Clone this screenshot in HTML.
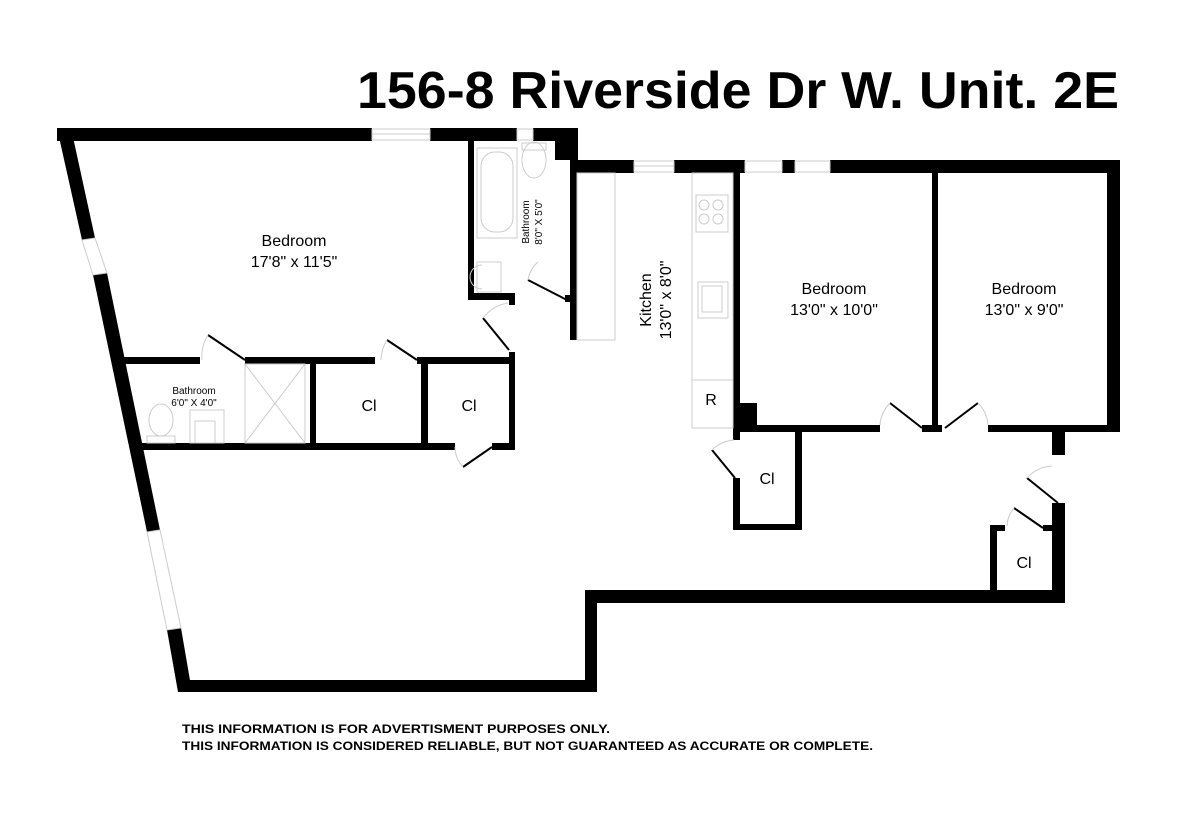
<!DOCTYPE html>
<html><head><style>
body{margin:0;background:#fff;}
svg{display:block;font-family:"Liberation Sans",Arial,sans-serif;}
</style></head><body>
<svg width="1200" height="828" viewBox="0 0 1200 828" xmlns="http://www.w3.org/2000/svg">
<text x="357" y="108" font-size="52" font-weight="bold" fill="#000" textLength="762" lengthAdjust="spacingAndGlyphs">156-8 Riverside Dr W. Unit. 2E</text>
<g fill="#000">
<rect x="57" y="128" width="315" height="13"/>
<rect x="430" y="128" width="87" height="13"/>
<rect x="533" y="128" width="45" height="13"/>
<rect x="555" y="128" width="23" height="32"/>
<rect x="570" y="160" width="64" height="13"/>
<rect x="674" y="160" width="71" height="13"/>
<rect x="782" y="160" width="13" height="13"/>
<rect x="830" y="160" width="290" height="13"/>
<rect x="1107" y="160" width="13" height="272"/>
<polygon points="57,128 71,128 95,238 82,240"/>
<polygon points="93,275 107,273 160,530 147,532"/>
<polygon points="167,630 181,628 192,692 178,692"/>
<rect x="178" y="680" width="419" height="12"/>
<rect x="585" y="590" width="12" height="102"/>
<rect x="585" y="590" width="480" height="13"/>
<rect x="1052" y="503" width="13" height="100"/>
<rect x="468" y="141" width="6" height="159"/>
<rect x="468" y="293" width="47" height="7"/>
<rect x="509" y="293" width="6" height="12"/>
<rect x="570" y="160" width="7" height="180"/>
<rect x="565" y="295" width="12" height="7"/>
<rect x="120" y="357" width="80" height="7"/>
<rect x="245" y="357" width="65" height="7"/>
<rect x="310" y="357" width="65" height="7"/>
<rect x="417" y="357" width="98" height="7"/>
<rect x="138" y="443" width="317" height="7"/>
<rect x="492" y="443" width="23" height="7"/>
<rect x="310" y="357" width="6" height="93"/>
<rect x="421" y="357" width="7" height="93"/>
<rect x="509" y="352" width="6" height="98"/>
<rect x="733" y="173" width="7" height="267"/>
<rect x="735" y="403" width="22" height="29"/>
<rect x="735" y="425" width="145" height="7"/>
<rect x="922" y="425" width="20" height="7"/>
<rect x="932" y="173" width="6" height="259"/>
<rect x="988" y="425" width="132" height="7"/>
<rect x="1052" y="430" width="13" height="25"/>
<rect x="733" y="478" width="7" height="52"/>
<rect x="733" y="524" width="69" height="6"/>
<rect x="795" y="430" width="7" height="100"/>
<rect x="990" y="525" width="7" height="65"/>
<rect x="990" y="525" width="15" height="6"/>
<rect x="1043" y="525" width="22" height="6"/>
</g>
<g fill="none" stroke="#ccc" stroke-width="1">
<rect x="372" y="129" width="58" height="11"/><line x1="372" y1="134" x2="430" y2="134"/>
<rect x="517" y="129" width="16" height="11"/>
<rect x="634" y="161" width="40" height="11"/><line x1="634" y1="166" x2="674" y2="166"/>
<rect x="745" y="161" width="37" height="11"/><rect x="795" y="161" width="35" height="11"/>
<polygon points="82,240 95,238 107,273 93,275"/>
<polygon points="147,532 160,530 181,628 167,630"/>
<rect x="577" y="173" width="38" height="167"/>
<rect x="692" y="173" width="41" height="255"/>
<line x1="692" y1="380" x2="733" y2="380"/>
<rect x="696" y="195" width="32" height="37"/>
<circle cx="704" cy="205" r="5"/><circle cx="718" cy="205" r="5"/><circle cx="704" cy="219" r="5"/><circle cx="718" cy="219" r="5"/>
<rect x="698" y="282" width="30" height="36"/><rect x="702" y="286" width="20" height="26"/>
<rect x="477" y="148" width="40" height="90"/><rect x="481" y="152" width="32" height="80" rx="14"/>
<ellipse cx="534" cy="160" rx="12" ry="18"/><rect x="522" y="143" width="24" height="7"/>
<rect x="477" y="262" width="24" height="30"/><path d="M482,265 a12,12 0 0,0 0,24"/>
<rect x="245" y="364" width="60" height="79"/><line x1="245" y1="364" x2="305" y2="443"/><line x1="305" y1="364" x2="245" y2="443"/>
<ellipse cx="161" cy="420" rx="12" ry="16"/><rect x="147" y="436" width="28" height="7"/>
<rect x="190" y="410" width="34" height="33"/><path d="M195,443 v-22 h20 v22"/>
</g>
<g stroke="#000" stroke-width="2" fill="none">
<line x1="208" y1="335" x2="245" y2="360"/>
<line x1="387" y1="340" x2="417" y2="360"/>
<line x1="483" y1="318" x2="509" y2="350"/>
<line x1="528" y1="280" x2="567" y2="300"/>
<line x1="463" y1="467" x2="492" y2="447"/>
<line x1="890" y1="403" x2="922" y2="428"/>
<line x1="978" y1="403" x2="945" y2="428"/>
<line x1="712" y1="450" x2="735" y2="478"/>
<line x1="1027" y1="478" x2="1058" y2="503"/>
<line x1="1014" y1="508" x2="1043" y2="528"/>
</g>
<g stroke="#ccc" stroke-width="1" fill="none">
<path d="M208,335 a40,40 0 0,0 -6,25"/><path d="M387,340 a40,40 0 0,0 -6,20"/>
<path d="M483,318 a40,40 0 0,1 25,-15"/><path d="M528,280 a30,30 0 0,1 10,-18"/>
<path d="M463,467 a30,30 0 0,1 -8,-20"/><path d="M890,403 a35,35 0 0,0 -10,22"/>
<path d="M978,403 a35,35 0 0,1 10,22"/><path d="M712,450 a35,35 0 0,1 22,-10"/>
<path d="M1027,478 a35,35 0 0,1 25,-12"/><path d="M1014,508 a30,30 0 0,0 -7,18"/>
</g>
<g fill="#000" font-size="16" text-anchor="middle">
<text x="294" y="246">Bedroom</text><text x="294" y="267">17'8" x 11'5"</text>
<text x="834" y="294">Bedroom</text><text x="834" y="315">13'0" x 10'0"</text>
<text x="1024" y="294">Bedroom</text><text x="1024" y="315">13'0" x 9'0"</text>
<text x="369" y="411">Cl</text><text x="469" y="411">Cl</text>
<text x="767" y="484">Cl</text><text x="1024" y="568">Cl</text>
<text x="711" y="405">R</text>
<text x="194" y="394" font-size="10">Bathroom</text><text x="194" y="406" font-size="10">6'0" X 4'0"</text>
<text transform="translate(651,300) rotate(-90)">Kitchen</text>
<text transform="translate(671,300) rotate(-90)">13'0" x 8'0"</text>
<text transform="translate(529,222) rotate(-90)" font-size="10">Bathroom</text>
<text transform="translate(542,222) rotate(-90)" font-size="10">8'0" X 5'0"</text>
</g>
<g font-size="12" font-weight="bold" fill="#000">
<text x="182" y="733" textLength="428" lengthAdjust="spacingAndGlyphs">THIS INFORMATION IS FOR ADVERTISMENT PURPOSES ONLY.</text>
<text x="182" y="750" textLength="691" lengthAdjust="spacingAndGlyphs">THIS INFORMATION IS CONSIDERED RELIABLE, BUT NOT GUARANTEED AS ACCURATE OR COMPLETE.</text>
</g>
</svg>
</body></html>
